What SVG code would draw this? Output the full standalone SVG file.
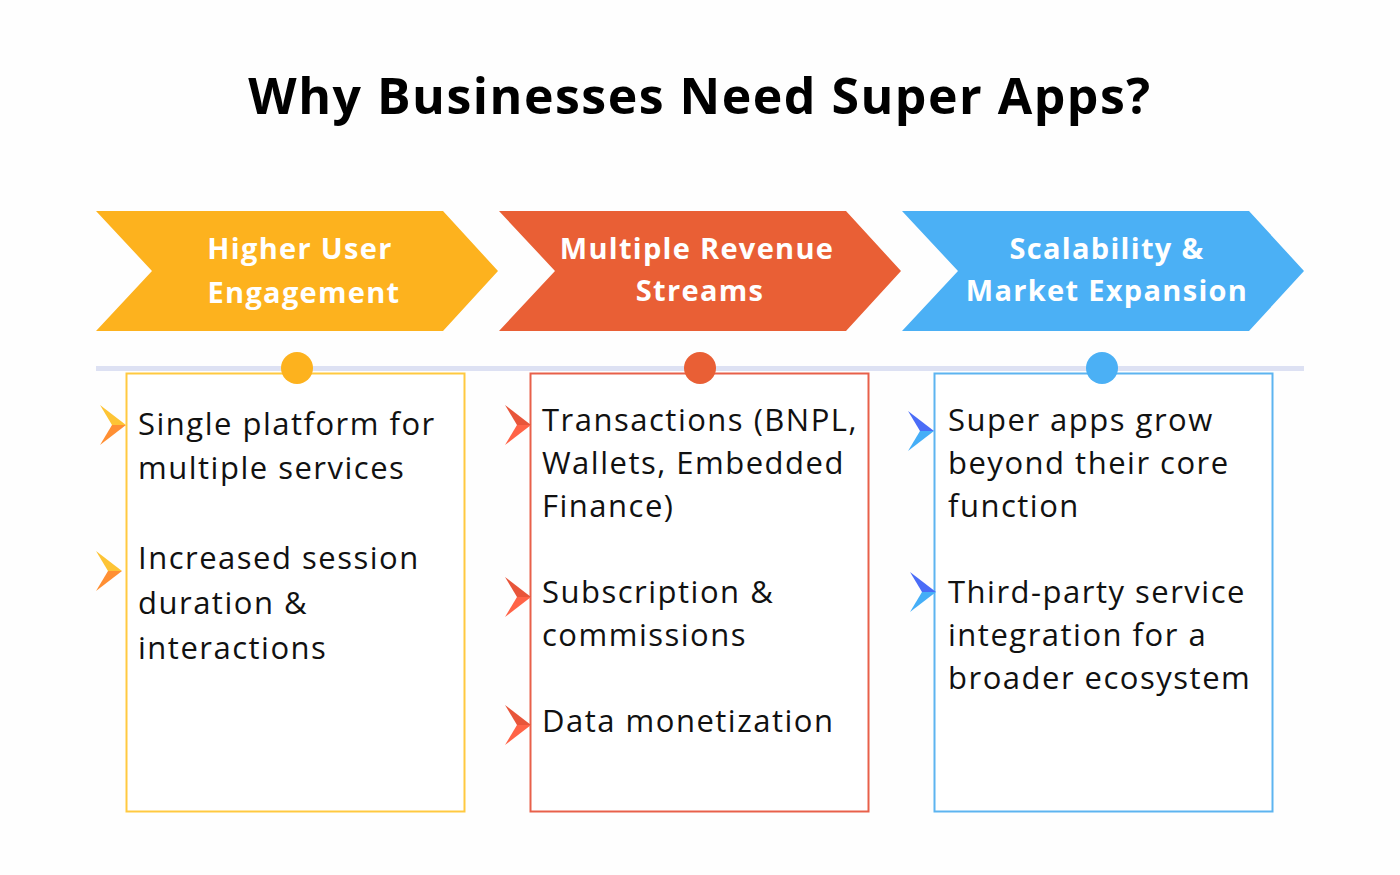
<svg xmlns="http://www.w3.org/2000/svg" width="1400" height="875" viewBox="0 0 1400 875">
<style>
.title{font-family:"Open Sans","Liberation Sans",sans-serif;font-weight:700;font-size:50px;fill:#000;text-anchor:middle;letter-spacing:1.5px}
.head{font-family:"Open Sans","Liberation Sans",sans-serif;font-weight:700;font-size:29px;fill:#fff;text-anchor:middle;letter-spacing:1.3px}
.body{font-family:"Open Sans","Liberation Sans",sans-serif;font-size:31px;fill:#111;letter-spacing:1.5px}
.box{fill:#fff;stroke-width:2}
</style>
<rect width="1400" height="875" fill="#fefefe"/>
<text class="title" x="700" y="114">Why Businesses Need Super Apps?</text>

<g id="chev1">
<polygon points="96,211 443,211 498,271 443,331 96,331 152,271" fill="#FDB21E"/>
<text class="head" x="300" y="259">Higher User</text>
<text class="head" x="304" y="303">Engagement</text>
</g>
<g id="chev2">
<polygon points="499,211 846,211 901,271 846,331 499,331 555,271" fill="#E95F35"/>
<text class="head" x="697" y="259">Multiple Revenue</text>
<text class="head" x="700" y="301">Streams</text>
</g>
<g id="chev3">
<polygon points="902,211 1249,211 1304,271 1249,331 902,331 958,271" fill="#4BB0F5"/>
<text class="head" x="1107" y="259">Scalability &amp;</text>
<text class="head" x="1107" y="301">Market Expansion</text>
</g>

<g id="connectors">
<line x1="96" y1="368.5" x2="1304" y2="368.5" stroke="#DDE1F3" stroke-width="5"/>
</g>

<g id="col1">
<rect class="box" x="126.5" y="373.5" width="338" height="438" stroke="#FFC940"/>
<circle cx="297" cy="368" r="16" fill="#FDB21E"/>
<g transform="translate(100,425)"><path d="M0,-20 L26,0 L12,0 Z" fill="#FDC435"/><path d="M0,20 L26,0 L12,0 Z" fill="#FF8F33"/></g>
<g transform="translate(96,571)"><path d="M0,-20 L26,0 L12,0 Z" fill="#FDC435"/><path d="M0,20 L26,0 L12,0 Z" fill="#FF8F33"/></g>
<text class="body" x="138" y="435">Single platform for</text>
<text class="body" x="138" y="479">multiple services</text>
<text class="body" x="138" y="569">Increased session</text>
<text class="body" x="138" y="614">duration &amp;</text>
<text class="body" x="138" y="659">interactions</text>
</g>

<g id="col2">
<rect class="box" x="530.5" y="373.5" width="338" height="438" stroke="#E8604A"/>
<circle cx="700" cy="368" r="16" fill="#E95F35"/>
<g transform="translate(505,425)"><path d="M0,-20 L26,0 L12,0 Z" fill="#E8553A"/><path d="M0,20 L26,0 L12,0 Z" fill="#FF6347"/></g>
<g transform="translate(505,597)"><path d="M0,-20 L26,0 L12,0 Z" fill="#E8553A"/><path d="M0,20 L26,0 L12,0 Z" fill="#FF6347"/></g>
<g transform="translate(505,725)"><path d="M0,-20 L26,0 L12,0 Z" fill="#E8553A"/><path d="M0,20 L26,0 L12,0 Z" fill="#FF6347"/></g>
<text class="body" x="542" y="431">Transactions (BNPL,</text>
<text class="body" x="542" y="474">Wallets, Embedded</text>
<text class="body" x="542" y="517">Finance)</text>
<text class="body" x="542" y="603">Subscription &amp;</text>
<text class="body" x="542" y="646">commissions</text>
<text class="body" x="542" y="732">Data monetization</text>
</g>

<g id="col3">
<rect class="box" x="934.5" y="373.5" width="338" height="438" stroke="#5DB4F0"/>
<circle cx="1102" cy="368" r="16" fill="#4BB0F5"/>
<g transform="translate(908,431)"><path d="M0,-20 L26,0 L12,0 Z" fill="#4A6CF7"/><path d="M0,20 L26,0 L12,0 Z" fill="#45AEF7"/></g>
<g transform="translate(910,592)"><path d="M0,-20 L26,0 L12,0 Z" fill="#4A6CF7"/><path d="M0,20 L26,0 L12,0 Z" fill="#45AEF7"/></g>
<text class="body" x="948" y="431">Super apps grow</text>
<text class="body" x="948" y="474">beyond their core</text>
<text class="body" x="948" y="517">function</text>
<text class="body" x="948" y="603">Third-party service</text>
<text class="body" x="948" y="646">integration for a</text>
<text class="body" x="948" y="689">broader ecosystem</text>
</g>
</svg>
